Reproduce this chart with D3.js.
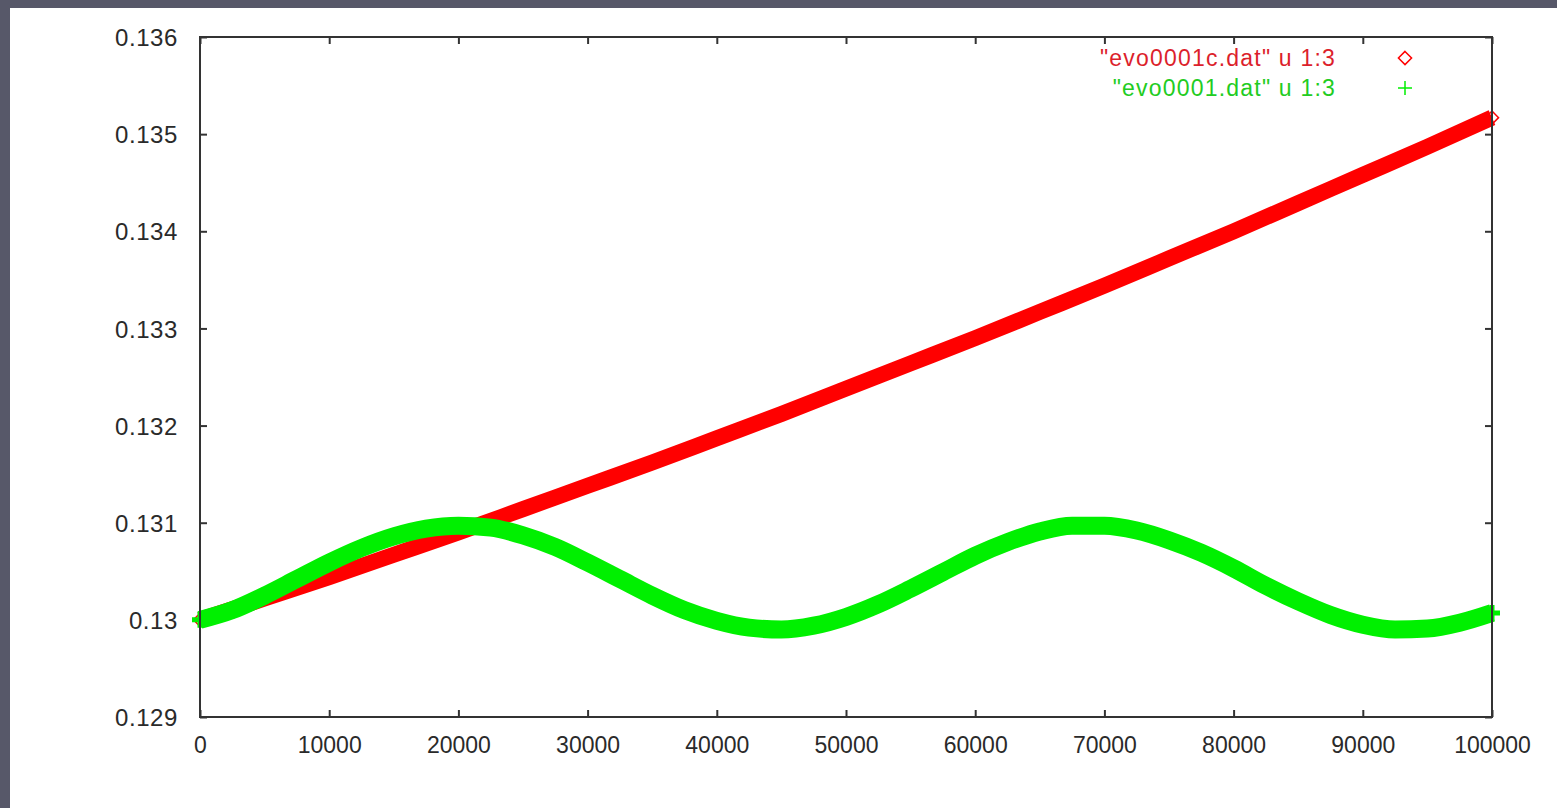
<!DOCTYPE html>
<html>
<head>
<meta charset="utf-8">
<script src="https://cdn.jsdelivr.net/npm/d3@7"></script>
<style>
  html, body { margin: 0; padding: 0; background: #ffffff; }
  svg { display: block; }
  text { font-family: "Liberation Sans", Arial, sans-serif; }
</style>
</head>
<body>
<svg id="chart" width="1557" height="808"></svg>
<script>
// Sample positions (column 1) shared by both files
const steps = [0, 5000, 10000, 15000, 20000, 25000, 30000, 35000, 40000, 45000,
  50000, 55000, 60000, 65000, 70000, 75000, 80000, 85000, 90000, 95000, 100000];

// evo0001c.dat, column 3
const evoC = [0.13000, 0.13022, 0.13044, 0.13067, 0.13090, 0.13114, 0.13138, 0.13162, 0.13187, 0.13212,
  0.13238, 0.13264, 0.13290, 0.13317, 0.13344, 0.13372, 0.13400, 0.13429, 0.13458, 0.13487, 0.13517];

// evo0001.dat sample positions and column 3 (finer spacing to follow the oscillation)
const stepsFine = [0, 2500, 5000, 7500, 10000, 12500, 15000, 17500, 20000, 22500,
  25000, 27500, 30000, 32500, 35000, 37500, 40000, 42500, 45000, 47500,
  50000, 52500, 55000, 57500, 60000, 62500, 65000, 67500, 70000, 72500,
  75000, 77500, 80000, 82500, 85000, 87500, 90000, 92500, 95000, 97500, 100000];
const evo = [0.13000, 0.13010, 0.13025, 0.13042, 0.13059, 0.13074, 0.13086, 0.13094, 0.13097, 0.13095,
  0.13087, 0.13075, 0.13059, 0.13042, 0.13025, 0.13010, 0.12999, 0.12992, 0.12990, 0.12994,
  0.13003, 0.13016, 0.13032, 0.13049, 0.13066, 0.13080, 0.13091, 0.13097, 0.13097, 0.13092,
  0.13082, 0.13069, 0.13053, 0.13035, 0.13019, 0.13005, 0.12995, 0.12990, 0.12991, 0.12997, 0.13007];

const xTicks = [0, 10000, 20000, 30000, 40000, 50000, 60000, 70000, 80000, 90000, 100000];
const yTicks = [0.129, 0.13, 0.131, 0.132, 0.133, 0.134, 0.135, 0.136];
const yTickLabels = ["0.129", "0.13", "0.131", "0.132", "0.133", "0.134", "0.135", "0.136"];

const legendLabels = ['"evo0001c.dat" u 1:3', '"evo0001.dat" u 1:3'];
const seriesColors = ["#ff0000", "#00f000"];
const legendTextColors = ["#dc1f2c", "#22cc22"];

const svg = d3.select("#chart");
const W = 1557, H = 808;
const plot = { left: 200, right: 1492, top: 37, bottom: 717 };

// window frame along the left and top edges
svg.append("rect").attr("x", 0).attr("y", 0).attr("width", W).attr("height", H).attr("fill", "#ffffff");
svg.append("rect").attr("x", 0).attr("y", 0).attr("width", W).attr("height", 8).attr("fill", "#575869");
svg.append("rect").attr("x", 0).attr("y", 0).attr("width", 10).attr("height", H).attr("fill", "#575869");

const x = d3.scaleLinear().domain([0, 100000]).range([plot.left, plot.right]);
const y = d3.scaleLinear().domain([0.129, 0.136]).range([plot.bottom, plot.top]);

const axisColor = "#333333";
const fontSize = 24;

// axes with inward ticks on all four sides
const tickLen = 7;
const axB = svg.append("g").attr("transform", `translate(0,${plot.bottom})`)
  .call(d3.axisBottom(x).tickValues(xTicks).tickSize(-tickLen).tickPadding(20).tickFormat(d3.format("d")));
const axT = svg.append("g").attr("transform", `translate(0,${plot.top})`)
  .call(d3.axisTop(x).tickValues(xTicks).tickSize(-tickLen).tickFormat(""));
const axL = svg.append("g").attr("transform", `translate(${plot.left},0)`)
  .call(d3.axisLeft(y).tickValues(yTicks).tickSize(-tickLen).tickPadding(22)
    .tickFormat((d, i) => yTickLabels[i]));
const axR = svg.append("g").attr("transform", `translate(${plot.right},0)`)
  .call(d3.axisRight(y).tickValues(yTicks).tickSize(-tickLen).tickFormat(""));

[axB, axT, axL, axR].forEach(g => {
  g.select(".domain").remove();
  g.selectAll(".tick line").attr("stroke", axisColor).attr("stroke-width", 2);
  g.selectAll(".tick text").attr("fill", "#2a2a2a").attr("font-size", fontSize)
    .attr("font-family", '"Liberation Sans", Arial, sans-serif');
});
axB.selectAll(".tick text").attr("dy", "0.71em").attr("y", 20).attr("font-size", 23);
axL.selectAll(".tick text").attr("dy", "0.36em").attr("letter-spacing", 0.6);

// clip the data to a little beyond the frame, as the end markers overhang it
svg.append("clipPath").attr("id", "plotClip").append("rect")
  .attr("x", plot.left - 8).attr("y", plot.top).attr("width", plot.right - plot.left + 16)
  .attr("height", plot.bottom - plot.top);

const dataLayer = svg.append("g").attr("clip-path", "url(#plotClip)");

const redPts = steps.map((s, i) => [s, evoC[i]]);
const greenPts = stepsFine.map((s, i) => [s, evo[i]]);

const line = d3.line().x(d => x(d[0])).y(d => y(d[1])).curve(d3.curveMonotoneX);

// evo0001c: dense diamonds merge into a solid band
dataLayer.append("path").datum(redPts)
  .attr("d", line).attr("fill", "none").attr("stroke", seriesColors[0])
  .attr("stroke-width", 16).attr("stroke-linecap", "butt");
const diamond = d3.symbol().type(d3.symbolDiamond2).size(110);
dataLayer.append("g").selectAll("path").data(redPts).join("path")
  .attr("d", diamond).attr("transform", d => `translate(${x(d[0])},${y(d[1])})`)
  .attr("fill", "none").attr("stroke", seriesColors[0]).attr("stroke-width", 1.5);

// evo0001: dense plus markers merge into a solid band
dataLayer.append("path").datum(greenPts)
  .attr("d", line).attr("fill", "none").attr("stroke", seriesColors[1])
  .attr("stroke-width", 18).attr("stroke-linecap", "butt");
dataLayer.append("g").selectAll("path").data(greenPts).join("path")
  .attr("d", "M-8,0H8M0,-8V8").attr("transform", d => `translate(${x(d[0])},${y(d[1])})`)
  .attr("fill", "none").attr("stroke", seriesColors[1]).attr("stroke-width", 5);

// plot border
svg.append("rect").attr("x", plot.left).attr("y", plot.top)
  .attr("width", plot.right - plot.left).attr("height", plot.bottom - plot.top)
  .attr("fill", "none").attr("stroke", axisColor).attr("stroke-width", 2);

// legend
const legend = svg.append("g");
const legendRows = [58, 88];
legendLabels.forEach((lbl, i) => {
  legend.append("text").attr("x", 1336).attr("y", legendRows[i]).attr("dy", "0.36em")
    .attr("text-anchor", "end").attr("font-size", 23).attr("letter-spacing", 1.2)
    .attr("fill", legendTextColors[i])
    .text(lbl);
});
legend.append("path").attr("d", d3.symbol().type(d3.symbolDiamond2).size(110)())
  .attr("transform", `translate(1405,${legendRows[0]})`)
  .attr("fill", "none").attr("stroke", seriesColors[0]).attr("stroke-width", 1.5);
legend.append("path").attr("d", "M-7,0H7M0,-7V7")
  .attr("transform", `translate(1405,${legendRows[1]})`)
  .attr("fill", "none").attr("stroke", seriesColors[1]).attr("stroke-width", 1.5);
</script>
</body>
</html>
